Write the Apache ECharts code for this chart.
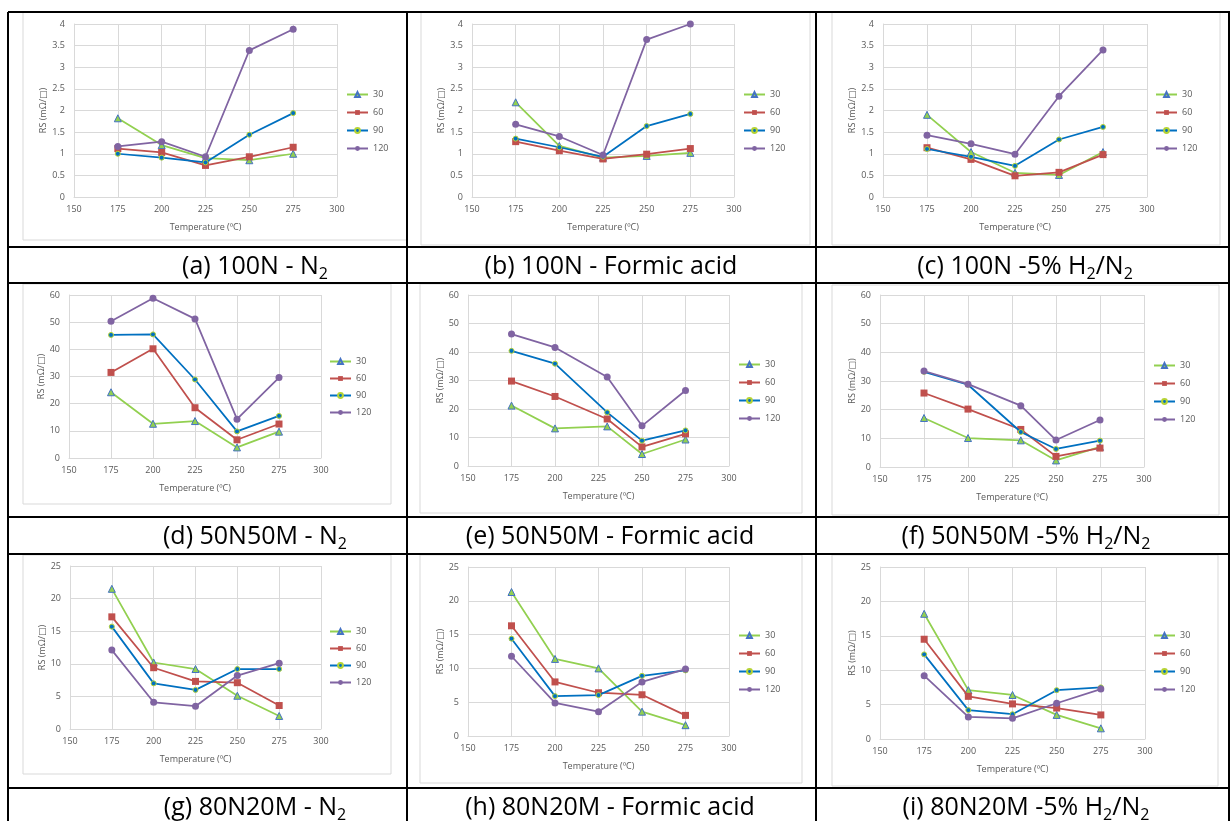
<!DOCTYPE html>
<html>
<head>
<meta charset="utf-8">
<script src="https://cdn.jsdelivr.net/npm/echarts@6/dist/echarts.min.js"></script>
<style>
  html, body { margin: 0; padding: 0; background: #fff; }
  #main { width: 1230px; height: 821px; }
</style>
</head>
<body>
<div id="main"></div>
<script>
// annealing time (min) - one line per time
var times = ['30', '60', '90', '120'];
// temperatures (ºC)
var tempStd = [175, 200, 225, 250, 275];
var tempAlt = [175, 200, 230, 250, 275];

// RS (mΩ/□), rows = 30, 60, 90, 120
var rsA = [[1.82, 1.2, 0.9, 0.85, 1.0], [1.12, 1.03, 0.73, 0.93, 1.15], [1.0, 0.91, 0.8, 1.44, 1.94], [1.17, 1.28, 0.93, 3.39, 3.88]];
var rsB = [[2.19, 1.18, 0.91, 0.95, 1.02], [1.28, 1.07, 0.88, 0.99, 1.12], [1.35, 1.15, 0.93, 1.64, 1.92], [1.68, 1.4, 0.97, 3.64, 4.0]];
var rsC = [[1.9, 1.04, 0.56, 0.51, 1.04], [1.14, 0.87, 0.49, 0.57, 0.98], [1.11, 0.93, 0.72, 1.33, 1.62], [1.43, 1.23, 0.99, 2.33, 3.4]];
var rsD = [[24.2, 12.6, 13.6, 3.9, 9.7], [31.5, 40.2, 18.5, 6.7, 12.5], [45.3, 45.5, 28.9, 9.8, 15.5], [50.3, 58.8, 51.2, 14.3, 29.6]];
var rsE = [[21.2, 13.2, 13.9, 4.2, 9.3], [29.8, 24.4, 16.5, 6.7, 11.3], [40.4, 35.9, 18.8, 8.9, 12.5], [46.3, 41.6, 31.2, 14.1, 26.5]];
var rsF = [[17.1, 10.1, 9.3, 2.3, 7.0], [25.8, 20.2, 13.1, 3.7, 6.6], [33.2, 28.7, 12.2, 6.3, 9.2], [33.5, 28.9, 21.4, 9.4, 16.4]];
var rsG = [[21.5, 10.2, 9.2, 5.1, 2.0], [17.2, 9.4, 7.3, 7.1, 3.6], [15.7, 7.0, 6.0, 9.2, 9.2], [12.1, 4.1, 3.5, 8.2, 10.1]];
var rsH = [[21.3, 11.4, 10.0, 3.6, 1.6], [16.3, 8.0, 6.4, 6.1, 3.05], [14.4, 5.9, 6.05, 8.9, 9.7], [11.8, 4.9, 3.6, 8.0, 9.9]];
var rsI = [[18.2, 7.1, 6.4, 3.5, 1.55], [14.5, 6.2, 5.1, 4.5, 3.5], [12.3, 4.2, 3.6, 7.1, 7.5], [9.2, 3.2, 3.0, 5.2, 7.25]];

var yMax = [4, 4, 4, 60, 60, 60, 25, 25, 25];
var yStep = [0.5, 0.5, 0.5, 10, 10, 10, 5, 5, 5];

var captions = [
    '(a) 100N - N{s|2}', '(b) 100N - Formic acid', '(c) 100N -5% H{s|2}/N{s|2}',
    '(d) 50N50M - N{s|2}', '(e) 50N50M - Formic acid', '(f) 50N50M -5% H{s|2}/N{s|2}',
    '(g) 80N20M - N{s|2}', '(h) 80N20M - Formic acid', '(i) 80N20M -5% H{s|2}/N{s|2}'
];

var panels = [
    {x: tempStd, rs: rsA}, {x: tempStd, rs: rsB}, {x: tempStd, rs: rsC},
    {x: tempStd, rs: rsD}, {x: tempAlt, rs: rsE}, {x: tempAlt, rs: rsF},
    {x: tempStd, rs: rsG}, {x: tempStd, rs: rsH}, {x: tempStd, rs: rsI}
];

// layout (px) of each plot area, legend and chart frame
var plotBox = [
    [74, 24, 263, 173], [472, 24, 262, 173], [883, 24, 264, 173],
    [69, 295, 252, 163], [468, 295, 261, 171], [880, 295, 264, 172],
    [70, 566, 251, 163], [468, 567, 261, 169], [880, 567, 265, 172]
];
var legendPos = [
    [346, 90, 9], [743, 90, 9], [1155, 90, 9],
    [329, 357, 8], [738, 360, 9], [1153, 361, 9],
    [329, 627, 8], [738, 631, 9], [1153, 631, 9]
];
var frames = [
    [23, 12, 384, 228], [421, 12, 389, 233], [832, 12, 388, 233],
    [23, 284, 368, 220], [420, 284, 382, 229], [832, 285, 387, 230],
    [23, 555, 368, 219], [420, 555, 382, 228], [832, 555, 386, 231]
];
var captionPos = [[255, 267], [611, 267], [1025, 267], [255, 537], [610, 537], [1026, 537], [255, 808], [610, 808], [1026, 808]];

var lineColors = ['#92D050', '#C0504D', '#0070C0', '#8064A2'];
var symbols = ['triangle', 'rect', 'circle', 'circle'];
var symbolSizes = [7, 7, 5, 7];
var markerStyles = [
    {color: '#92D050', borderColor: '#4472C4', borderWidth: 1},
    {color: '#C0504D'},
    {color: '#0070C0', borderColor: '#B5D334', borderWidth: 1},
    {color: '#8064A2'}
];

var font = '"Open Sans", "DejaVu Sans", sans-serif';
var grid = [], xAxis = [], yAxis = [], series = [], legend = [], graphic = [];

// table and chart frames
frames.forEach(function (f) {
    graphic.push({type: 'rect', z: -10, shape: {x: f[0], y: f[1], width: f[2], height: f[3]},
        style: {fill: '#fff', stroke: '#d9d9d9', lineWidth: 1}});
});
[12, 247, 283, 517, 554, 788].forEach(function (y) {
    graphic.push({type: 'line', shape: {x1: 8, y1: y, x2: 1230, y2: y}, style: {stroke: '#000', lineWidth: 2}});
});
[8, 407, 816, 1229].forEach(function (x) {
    graphic.push({type: 'line', shape: {x1: x, y1: 12, x2: x, y2: 821}, style: {stroke: '#000', lineWidth: 2}});
});
captions.forEach(function (c, i) {
    graphic.push({
        type: 'text', x: captionPos[i][0], y: captionPos[i][1],
        style: {
            text: c, fill: '#000', fontSize: 25, fontFamily: font, lineHeight: 30,
            align: 'center', verticalAlign: 'middle',
            rich: {s: {fontSize: 16, fontFamily: font, lineHeight: 16, verticalAlign: 'bottom', fill: '#000'}}
        }
    });
});

panels.forEach(function (p, i) {
    var b = plotBox[i];
    var gap = i < 3 ? 26 : 22;
    grid.push({left: b[0], top: b[1], width: b[2], height: b[3]});
    xAxis.push({
        type: 'value', gridIndex: i, min: 150, max: 300, interval: 25,
        name: 'Temperature (ºC)', nameLocation: 'middle', nameGap: 26,
        nameTextStyle: {fontSize: 9, color: '#595959', fontFamily: font},
        axisLine: {show: true, lineStyle: {color: '#d9d9d9'}},
        axisTick: {show: false},
        axisLabel: {fontSize: 9, color: '#595959', fontFamily: font, margin: 8},
        splitLine: {show: true, lineStyle: {color: '#d9d9d9'}}
    });
    yAxis.push({
        type: 'value', gridIndex: i, min: 0, max: yMax[i], interval: yStep[i],
        name: 'RS (mΩ/□)', nameLocation: 'middle', nameGap: gap,
        nameTextStyle: {fontSize: 9, color: '#595959', fontFamily: font},
        axisLine: {show: true, lineStyle: {color: '#d9d9d9'}},
        axisTick: {show: false},
        axisLabel: {fontSize: 9, color: '#595959', fontFamily: font, margin: 9},
        splitLine: {show: true, lineStyle: {color: '#d9d9d9'}}
    });
    times.forEach(function (t, k) {
        series.push({
            name: t, type: 'line', xAxisIndex: i, yAxisIndex: i,
            data: p.x.map(function (x, j) { return [x, p.rs[k][j]]; }),
            symbol: symbols[k], symbolSize: symbolSizes[k], showAllSymbol: true,
            lineStyle: {color: lineColors[k], width: 1.75},
            itemStyle: markerStyles[k],
            z: 2 + k
        });
    });
    legend.push({
        orient: 'vertical', left: legendPos[i][0], top: legendPos[i][1], padding: 0,
        itemWidth: 21, itemHeight: 6, itemGap: legendPos[i][2], selectedMode: false,
        textStyle: {fontSize: 9, color: '#595959', fontFamily: font, lineHeight: 6},
        data: times
    });
});

var chart = echarts.init(document.getElementById('main'));
chart.setOption({
    animation: false,
    backgroundColor: '#fff',
    grid: grid, xAxis: xAxis, yAxis: yAxis, legend: legend,
    series: series, graphic: graphic
});
</script>
</body>
</html>
